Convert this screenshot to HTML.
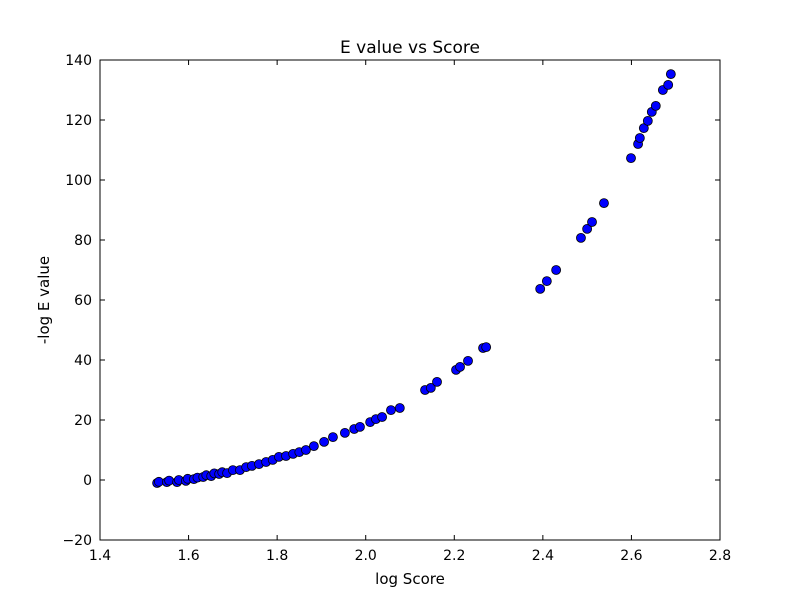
<!DOCTYPE html>
<html><head><meta charset="utf-8"><style>
body{margin:0;background:#fff}
svg{display:block;font-family:"DejaVu Sans","Liberation Sans",sans-serif}
</style></head><body>
<svg id="chart" width="800" height="600">
<rect width="800" height="600" fill="#fff"/>
<g id="marks"></g>
<g id="axes"></g>
</svg>
<script>
const xData=[1.529,1.533,1.551,1.556,1.574,1.578,1.594,1.598,1.612,1.62,1.633,1.64,1.651,1.658,1.669,1.676,1.687,1.70,1.716,1.73,1.743,1.759,1.775,1.79,1.804,1.82,1.836,1.85,1.865,1.883,1.906,1.926,1.953,1.974,1.987,2.01,2.023,2.037,2.057,2.077,2.134,2.147,2.161,2.204,2.213,2.231,2.265,2.272,2.394,2.409,2.43,2.486,2.5,2.511,2.538,2.599,2.615,2.619,2.628,2.637,2.646,2.655,2.671,2.683,2.689];
const yData=[-1,-0.6,-0.7,-0.2,-0.7,0,-0.3,0.4,0.3,0.8,1,1.6,1.3,2.2,2,2.6,2.3,3.3,3.3,4.3,4.7,5.3,6,6.7,7.7,8,8.7,9.3,10,11.3,12.7,14.3,15.7,17,17.7,19.3,20.3,21,23.3,24,30,30.7,32.7,36.7,37.7,39.7,44,44.3,63.7,66.3,70,80.7,83.7,86,92.3,107.3,112,114,117.3,119.7,122.7,124.7,130,131.7,135.3];
const xTicks=[1.4,1.6,1.8,2.0,2.2,2.4,2.6,2.8];
const yTicks=[-20,0,20,40,60,80,100,120,140];
const L=100,R=720,T=60,B=540,x0=1.4,x1=2.8,y0=-20,y1=140;
const sx=v=>L+(v-x0)/(x1-x0)*(R-L);
const sy=v=>B-(v-y0)/(y1-y0)*(B-T);
const NS="http://www.w3.org/2000/svg";
const marks=document.getElementById('marks'),axes=document.getElementById('axes');
function mk(tag,attrs,parent){const e=document.createElementNS(NS,tag);for(const k in attrs)e.setAttribute(k,attrs[k]);parent.appendChild(e);return e;}
xData.forEach((xv,i)=>{
 const c=mk('circle',{cx:sx(xv),cy:sy(yData[i]),r:4.5,fill:'#0000ff',stroke:'#000','stroke-width':0.8},marks);
 
 
});
const frame=mk('rect',{x:L,y:T,width:R-L,height:B-T,fill:'none',stroke:'#000','stroke-width':1},axes);


xTicks.forEach(t=>{
 const x=sx(t);
 mk('line',{x1:x,x2:x,y1:B,y2:B-5,stroke:'#000'},axes);
 mk('line',{x1:x,x2:x,y1:T,y2:T+5,stroke:'#000'},axes);
 const tx=mk('text',{x:x,y:B+20,'text-anchor':'middle','font-size':14},axes);
 tx.textContent=t.toFixed(1);
 
 
});
yTicks.forEach(t=>{
 const y=sy(t);
 mk('line',{x1:L,x2:L+5,y1:y,y2:y,stroke:'#000'},axes);
 mk('line',{x1:R,x2:R-5,y1:y,y2:y,stroke:'#000'},axes);
 const tx=mk('text',{x:L-8,y:y+5,'text-anchor':'end','font-size':14},axes);
 tx.textContent=t<0?'\u2212'+Math.abs(t):t;
 
 
});
</script>
<svg style="position:absolute;left:0;top:0" width="800" height="600">
<text x="410" y="53" text-anchor="middle" font-size="17" font-family="DejaVu Sans,Liberation Sans,sans-serif">E value vs Score</text>
<text x="410" y="584" text-anchor="middle" font-size="15" font-family="DejaVu Sans,Liberation Sans,sans-serif">log Score</text>
<text x="49" y="300" text-anchor="middle" font-size="15" font-family="DejaVu Sans,Liberation Sans,sans-serif" transform="rotate(-90 49 300)">-log E value</text>
</svg>
</body></html>
